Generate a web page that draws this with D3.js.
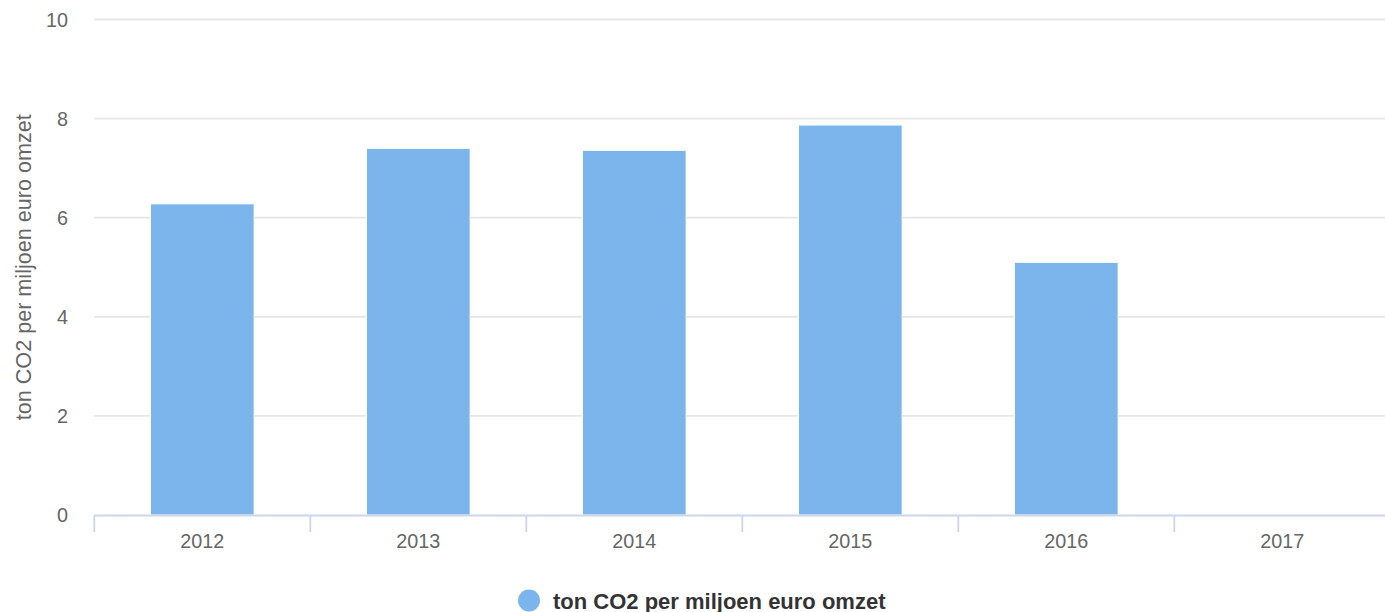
<!DOCTYPE html>
<html>
<head>
<meta charset="utf-8">
<script src="https://cdn.jsdelivr.net/npm/d3@7"></script>
<style>
  body { margin: 0; background: #fff; }
  svg { display: block; font-family: "Liberation Sans", Arial, sans-serif; }
</style>
</head>
<body>
<div id="chart"></div>
<script>
// chart data
const years = ["2012", "2013", "2014", "2015", "2016", "2017"];
const values = [6.28, 7.40, 7.36, 7.87, 5.10, null];
const yTicks = [0, 2, 4, 6, 8, 10];
const seriesName = "ton CO2 per miljoen euro omzet";

const width = 1385, height = 612;
const margin = { top: 19.5, left: 94.3, bottom: 97 };
const plotRight = 1390.3;

const svg = d3.select("#chart").append("svg")
    .attr("width", width)
    .attr("height", height);

const x = d3.scaleBand()
    .domain(years)
    .range([margin.left, plotRight])
    .paddingInner(0)
    .paddingOuter(0);

const y = d3.scaleLinear()
    .domain([0, 10])
    .range([height - margin.bottom, margin.top]);

// gridlines
svg.append("g")
    .selectAll("line")
    .data(yTicks.filter(d => d !== 0))
    .enter().append("line")
    .attr("x1", margin.left)
    .attr("x2", plotRight)
    .attr("y1", d => y(d))
    .attr("y2", d => y(d))
    .attr("stroke", "#e6e6e6")
    .attr("stroke-width", 1.8);

// y labels
svg.append("g")
    .selectAll("text")
    .data(yTicks)
    .enter().append("text")
    .attr("x", 68)
    .attr("y", d => y(d) + 7)
    .attr("text-anchor", "end")
    .attr("font-size", "19.8px")
    .attr("fill", "#666666")
    .text(d => d);

// y axis title
svg.append("text")
    .attr("transform", `translate(31,${(y(0) + y(10)) / 2}) rotate(-90)`)
    .attr("text-anchor", "middle")
    .attr("font-size", "21.6px")
    .attr("fill", "#666666")
    .text(seriesName);

// bars
const groupPad = 0.2, pointPad = 0.1;
const groupW = x.bandwidth() * (1 - 2 * groupPad);
const barW = groupW * (1 - 2 * pointPad);

svg.append("g")
    .selectAll("rect")
    .data(years.map((d, i) => ({ year: d, value: values[i] })).filter(d => d.value != null))
    .enter().append("rect")
    .attr("x", d => x(d.year) + (x.bandwidth() - barW) / 2)
    .attr("y", d => y(d.value))
    .attr("width", barW)
    .attr("height", d => y(0) - y(d.value))
    .attr("fill", "#7cb5ec")
    .attr("stroke", "#ffffff")
    .attr("stroke-width", 1);

// x axis
const xAxis = svg.append("g");
xAxis.append("line")
    .attr("x1", margin.left)
    .attr("x2", plotRight)
    .attr("y1", y(0) + 0.5)
    .attr("y2", y(0) + 0.5)
    .attr("stroke", "#ccd6eb")
    .attr("stroke-width", 1.8);

xAxis.selectAll(".tick")
    .data(years)
    .enter().append("line")
    .attr("class", "tick")
    .attr("x1", d => x(d))
    .attr("x2", d => x(d))
    .attr("y1", y(0))
    .attr("y2", y(0) + 17)
    .attr("stroke", "#ccd6eb")
    .attr("stroke-width", 1.8);

xAxis.selectAll(".label")
    .data(years)
    .enter().append("text")
    .attr("class", "label")
    .attr("x", d => x(d) + x.bandwidth() / 2)
    .attr("y", 548)
    .attr("text-anchor", "middle")
    .attr("font-size", "19.8px")
    .attr("fill", "#666666")
    .text(d => d);

// legend (sits at the bottom edge like the original)
const legend = svg.append("g").attr("transform", "translate(529,600.5)");
legend.append("circle")
    .attr("r", 11)
    .attr("fill", "#7cb5ec");
legend.append("text")
    .attr("x", 24)
    .attr("y", 8)
    .attr("font-size", "22px")
    .attr("font-weight", "bold")
    .attr("fill", "#333333")
    .text(seriesName);
</script>
</body>
</html>
